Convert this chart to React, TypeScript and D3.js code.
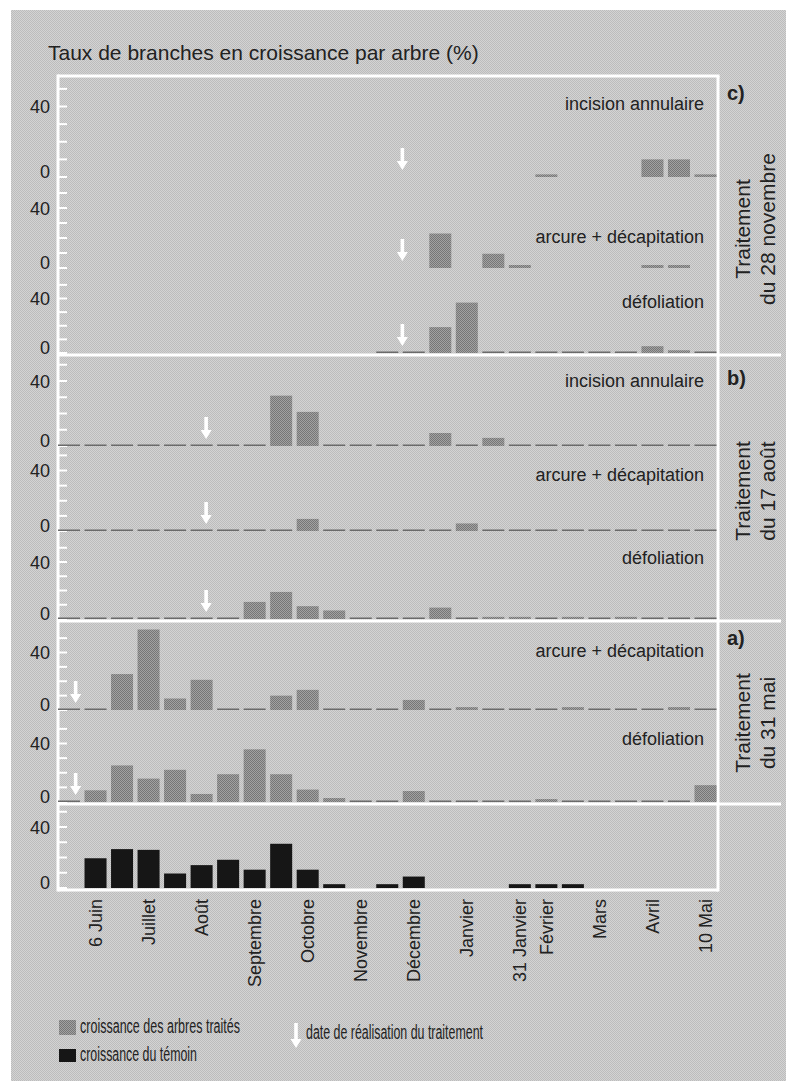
import * as d3 from 'd3';

// half-month periods, labelled every other bar
const periodLabels = ['', '6 Juin', '', 'Juillet', '', 'Août', '', 'Septembre', '', 'Octobre', '', 'Novembre', '', 'Décembre', '', 'Janvier', '', '31 Janvier', 'Février', '', 'Mars', '', 'Avril', '', '10 Mai'];

// taux de branches en croissance (%), null = rien de tracé
const n = null;
const incisionNov = [n, n, n, n, n, n, n, n, n, n, n, n, n, n, n, n, n, n, 1.5, n, n, n, 10, 10, 1.5];
const arcureNov = [n, n, n, n, n, n, n, n, n, n, n, n, n, n, 23, n, 9.5, 2, n, n, n, n, 2, 2, n];
const defolNov = [n, n, n, n, n, n, n, n, n, n, n, n, 0, 0, 19, 37, 0, 0, 0, 0, 0, 0, 5, 2, 0];
const incisionAug = [0, 0, 0, 0, 0, 0, 0, 0, 31, 21, 0, 0, 0, 0, 8, 0, 5, 0, 0, 0, 0, 0, 0, 0, 0];
const arcureAug = [0, 0, 0, 0, 0, 0, 0, 0, 0, 8, 0, 0, 0, 0, 0, 5, 0, 0, 0, 0, 0, 0, 0, 0, 0];
const defolAug = [0, 0, 0, 0, 0, 0, 0, 12, 19, 9, 6, 0, 0, 0, 8, 0, 1.5, 1.5, 0, 1.5, 0, 1.5, 0, 0, 0];
const arcureMay = [0, 0, 25, 56, 8, 21, 0, 0, 10, 14, 0, 0, 0, 7, 0, 2, 0, 0, 0, 2, 0, 0, 0, 2, 0];
const defolMay = [0, 8, 25, 16, 22, 5.5, 19, 36, 19, 8.5, 2.7, 0, 0, 7.5, 0, 0, 0, 0, 2, 0, 0, 0, 0, 0, 11.5];
const temoin = [n, 19.5, 25.5, 25, 9.5, 15, 18.5, 12, 29, 12, 2.5, n, 2.5, 7.5, n, n, n, 2.5, 2.5, 2.5, n, n, n, n, n];

// treatment dates, as position on the period axis
const treatmentAt = { c: 12.57, b: 5.17, a: 0.25 };

const groups = [
  {
    tag: 'c)', tagY: 100, line1: 'Traitement', line2: 'du 28 novembre', midY: 229, arrow: treatmentAt.c,
    panels: [
      { label: 'incision annulaire', values: incisionNov, top: 76, zero: 177, y40: 106.5, labelY: 110 },
      { label: 'arcure + décapitation', values: arcureNov, top: 177, zero: 268, y40: 208, labelY: 243 },
      { label: 'défoliation', values: defolNov, top: 268, zero: 353, y40: 298.5, labelY: 308 },
    ],
  },
  {
    tag: 'b)', tagY: 385, line1: 'Traitement', line2: 'du 17 août', midY: 491, arrow: treatmentAt.b,
    panels: [
      { label: 'incision annulaire', values: incisionAug, top: 355, zero: 446, y40: 381, labelY: 387 },
      { label: 'arcure + décapitation', values: arcureAug, top: 446, zero: 531, y40: 470.5, labelY: 481 },
      { label: 'défoliation', values: defolAug, top: 531, zero: 619, y40: 562, labelY: 564 },
    ],
  },
  {
    tag: 'a)', tagY: 645, line1: 'Traitement', line2: 'du 31 mai', midY: 723, arrow: treatmentAt.a,
    panels: [
      { label: 'arcure + décapitation', values: arcureMay, top: 621, zero: 710, y40: 652.5, labelY: 657 },
      { label: 'défoliation', values: defolMay, top: 710, zero: 802, y40: 743.5, labelY: 745 },
    ],
  },
];
const control = { values: temoin, top: 804, zero: 888, y40: 827 };

const FONT = '"Liberation Sans", Arial, Helvetica, sans-serif';
const W = 786;
const H = 1081;
const left = 58;
const right = 718;
const frameTop = 76;
const frameBottom = 890;

function Arrow({ x, tip, len = 22 }: { x: number; tip: number; len?: number }) {
  const p = d3.path();
  p.moveTo(x - 1.8, tip - len);
  p.lineTo(x + 1.8, tip - len);
  p.lineTo(x + 1.8, tip - 9);
  p.lineTo(x + 5.5, tip - 9);
  p.lineTo(x, tip);
  p.lineTo(x - 5.5, tip - 9);
  p.lineTo(x - 1.8, tip - 9);
  p.closePath();
  return <path d={p.toString()} fill="#fff" />;
}

function Panel({ p, arrow, dark }: any) {
  const x = d3.scaleBand<number>().domain(d3.range(periodLabels.length)).range([left, 716.5]).paddingInner(0.17).paddingOuter(0);
  const y = d3.scaleLinear().domain([0, 40]).range([p.zero, p.y40]);
  const bw = x.bandwidth();
  const pos = d3.scaleLinear().domain([0, periodLabels.length - 1]).range([x(0)! + bw / 2, x(periodLabels.length - 1)! + bw / 2]);
  const ticks = d3.range(0, 80, 10).filter((t) => y(t) > p.top + 5);
  return (
    <g>
      {ticks.map((t) => (
        <line key={t} x1={left} x2={left + 9} y1={y(t)} y2={y(t)} stroke="#fff" strokeWidth={2} />
      ))}
      {[0, 40].map((t) => (
        <text key={t} x={50} y={y(t) + (t === 0 ? 1 : 6.5)} textAnchor="end" fontSize={18} fill="#222">{t}</text>
      ))}
      {p.values.map((v: number | null, i: number) => {
        if (v === null) return null;
        if (v === 0) return <rect key={i} x={x(i)} y={p.zero - 1.5} width={bw} height={1.5} fill="#6a6a6a" />;
        return <rect key={i} x={x(i)} y={y(v)} width={bw} height={p.zero - y(v)} fill={dark ? '#161616' : 'url(#barTone)'} />;
      })}
      {p.label && (
        <text x={704} y={p.labelY} textAnchor="end" fontSize={18} fill="#222">{p.label}</text>
      )}
      {arrow !== undefined && <Arrow x={pos(arrow)} tip={p.zero - 7} />}
    </g>
  );
}

export default function App() {
  const x = d3.scaleBand<number>().domain(d3.range(periodLabels.length)).range([left, 716.5]).paddingInner(0.17).paddingOuter(0);
  const bw = x.bandwidth();
  const separators = groups.map((g) => g.panels[g.panels.length - 1].zero + 2);
  return (
    <svg width={W} height={H} style={{ position: 'absolute', left: 0, top: 0 }} fontFamily={FONT}>
      <defs>
        <pattern id="bgTone" width={2} height={2} patternUnits="userSpaceOnUse">
          <rect width={2} height={2} fill="#d3d3d3" />
          <rect width={1} height={1} fill="#bcbcbc" />
          <rect x={1} y={1} width={1} height={1} fill="#bcbcbc" />
        </pattern>
        <pattern id="barTone" width={2} height={2} patternUnits="userSpaceOnUse">
          <rect width={2} height={2} fill="#a2a2a2" />
          <rect width={1} height={1} fill="#767676" />
          <rect x={1} y={1} width={1} height={1} fill="#767676" />
        </pattern>
      </defs>
      <rect x={0} y={0} width={W} height={H} fill="#fff" />
      <rect x={11} y={10} width={W - 11} height={H - 10} fill="url(#bgTone)" />

      <text x={48} y={60} fontSize={21} fill="#222">Taux de branches en croissance par arbre (%)</text>

      {/* frame */}
      <line x1={left} x2={right + 1.5} y1={frameTop} y2={frameTop} stroke="#fff" strokeWidth={3} />
      <line x1={left} x2={left} y1={frameTop - 1.5} y2={frameBottom + 1.5} stroke="#fff" strokeWidth={3} />
      <line x1={right} x2={right} y1={frameTop} y2={frameBottom + 1.5} stroke="#fff" strokeWidth={3} />
      <line x1={left} x2={right} y1={frameBottom} y2={frameBottom} stroke="#fff" strokeWidth={3} />
      {separators.map((s) => (
        <line key={s} x1={left} x2={781} y1={s} y2={s} stroke="#fff" strokeWidth={3} />
      ))}

      {groups.map((g) => (
        <g key={g.tag}>
          {g.panels.map((p) => (
            <Panel key={p.label + p.zero} p={p} arrow={g.arrow} />
          ))}
          <text x={727} y={g.tagY} fontSize={20} fontWeight="bold" fill="#222">{g.tag}</text>
          <g transform={`translate(750,${g.midY}) rotate(-90)`}>
            <text textAnchor="middle" fontSize={21} fill="#222">{g.line1}</text>
          </g>
          <g transform={`translate(775,${g.midY}) rotate(-90)`}>
            <text textAnchor="middle" fontSize={21} fill="#222">{g.line2}</text>
          </g>
        </g>
      ))}
      <Panel p={control} dark />

      {/* x axis labels */}
      {periodLabels.map((l, i) =>
        l ? (
          <g key={i} transform={`translate(${x(i)! + bw / 2},899) rotate(-90)`}>
            <text textAnchor="end" dy="0.35em" fontSize={18} fill="#222">{l}</text>
          </g>
        ) : null,
      )}

      {/* legend */}
      <rect x={59} y={1020} width={17} height={15} fill="url(#barTone)" />
      <text x={80} y={1033} fontSize={19.5} fill="#222" textLength={160} lengthAdjust="spacingAndGlyphs">croissance des arbres traités</text>
      <rect x={59} y={1049} width={17} height={13} fill="#161616" />
      <text x={80} y={1061} fontSize={19.5} fill="#222" textLength={117} lengthAdjust="spacingAndGlyphs">croissance du témoin</text>
      <Arrow x={296} tip={1048} len={25} />
      <text x={306} y={1039} fontSize={19.5} fill="#222" textLength={177} lengthAdjust="spacingAndGlyphs">date de réalisation du traitement</text>
    </svg>
  );
}
